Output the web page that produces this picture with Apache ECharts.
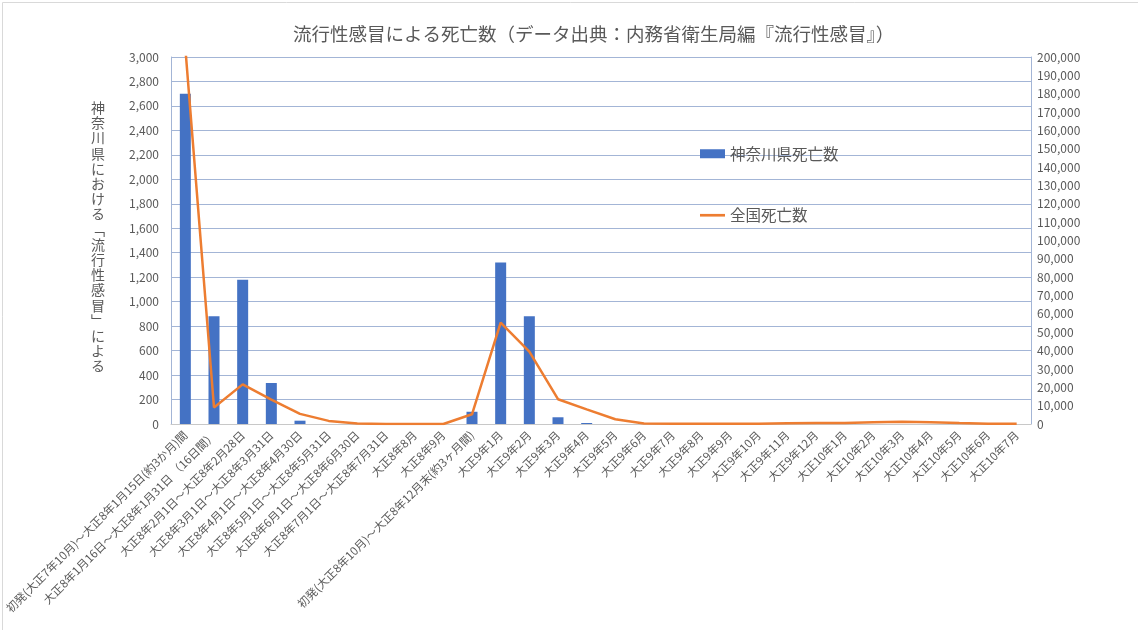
<!DOCTYPE html>
<html><head><meta charset="utf-8">
<script src="https://cdn.jsdelivr.net/npm/echarts@6/dist/echarts.min.js"></script>
<style>html,body{margin:0;padding:0;background:#fff}#c{width:1138px;height:630px}</style>
</head><body><div id="c"></div>
<script>
const categories = [
  '初発(大正7年10月)～大正8年1月15日(約3か月)間',
  '大正8年1月16日～大正8年1月31日 （16日間）',
  '大正8年2月1日～大正8年2月28日',
  '大正8年3月1日～大正8年3月31日',
  '大正8年4月1日～大正8年4月30日',
  '大正8年5月1日～大正8年5月31日',
  '大正8年6月1日～大正8年6月30日',
  '大正8年7月1日～大正8年7月31日',
  '大正8年8月','大正8年9月',
  '初発(大正8年10月)～大正8年12月末(約3ヶ月間)',
  '大正9年1月','大正9年2月','大正9年3月','大正9年4月','大正9年5月','大正9年6月',
  '大正9年7月','大正9年8月','大正9年9月','大正9年10月','大正9年11月','大正9年12月',
  '大正10年1月','大正10年2月','大正10年3月','大正10年4月','大正10年5月','大正10年6月','大正10年7月'
];
const kanagawaDeaths = [2700, 880, 1180, 335, 27, 0, 0, 0, 0, 0, 100, 1320, 880, 55, 8, 0, 0, 0, 0, 0, 0, 0, 0, 0, 0, 0, 0, 0, 0, 0];
const nationalDeaths = [205000, 9000, 21600, 13300, 5500, 1700, 300, 50, 30, 20, 5300, 55200, 39400, 13500, 8000, 2600, 300, 100, 100, 150, 200, 400, 500, 600, 900, 1200, 900, 500, 200, 100];
const leftAxisName = '神奈川県における﹁流行性感冒﹂による';

const chart = echarts.init(document.getElementById('c'));
const gray = '#595959';
const gridColor = '#a3b5d6';
const font = '"Noto Sans CJK JP", "Noto Sans", sans-serif';
chart.setOption({
  animation: false,
  textStyle: { fontFamily: font },
  title: {
    text: '流行性感冒による死亡数（データ出典：内務省衛生局編『流行性感冒』）',
    left: 288, top: 20,
    textStyle: { fontSize: 18.5, fontWeight: 'normal', color: gray, fontFamily: font }
  },
  legend: {
    orient: 'vertical', left: 695, top: 141, itemGap: 46,
    itemWidth: 25, itemHeight: 9,
    textStyle: { fontSize: 15.5, color: gray, fontFamily: font },
    data: [
      { name: '神奈川県死亡数', icon: 'rect' },
      { name: '全国死亡数', icon: 'path://M0,0 L28,0 L28,3 L0,3 Z', itemStyle: { color: '#ed7d31' } }
    ]
  },
  graphic: [
    { type: 'rect', left: 0, top: 0, shape: { width: 1137, height: 629 }, style: { fill: 'none', stroke: '#d9d9d9', lineWidth: 1 } },
    { type: 'text', left: 91, top: 100, style: { text: leftAxisName.split('').join('\n'), fontSize: 14, lineHeight: 15.2, fill: gray, fontFamily: font, align: 'center' } }
  ],
  grid: { left: 171, right: 107, top: 57, bottom: 206, containLabel: false, outerBoundsMode: 'none' },
  xAxis: {
    type: 'category', data: categories,
    axisTick: { show: false },
    axisLine: { lineStyle: { color: '#c8c8c8' } },
    axisLabel: { rotate: 45, interval: 0, fontSize: 11.5, color: gray, margin: 9, fontFamily: font }
  },
  yAxis: [
    { type: 'value', min: 0, max: 3000, interval: 200,
      axisLine: { show: true, lineStyle: { color: gridColor } },
      splitLine: { lineStyle: { color: gridColor } },
      axisLabel: { fontSize: 12, color: gray, margin: 12, formatter: v => v.toLocaleString('en-US') } },
    { type: 'value', min: 0, max: 200000, interval: 10000,
      axisLine: { show: true, lineStyle: { color: gridColor } },
      splitLine: { show: false },
      axisLabel: { fontSize: 12, color: gray, margin: 6, formatter: v => v.toLocaleString('en-US') } }
  ],
  series: [
    { name: '神奈川県死亡数', type: 'bar', data: kanagawaDeaths, barWidth: 11, itemStyle: { color: '#4472c4' } },
    { name: '全国死亡数', type: 'line', yAxisIndex: 1, data: nationalDeaths, symbol: 'none', clip: true,
      lineStyle: { color: '#ed7d31', width: 2.5 }, itemStyle: { color: '#ed7d31' } }
  ]
});
</script></body></html>
